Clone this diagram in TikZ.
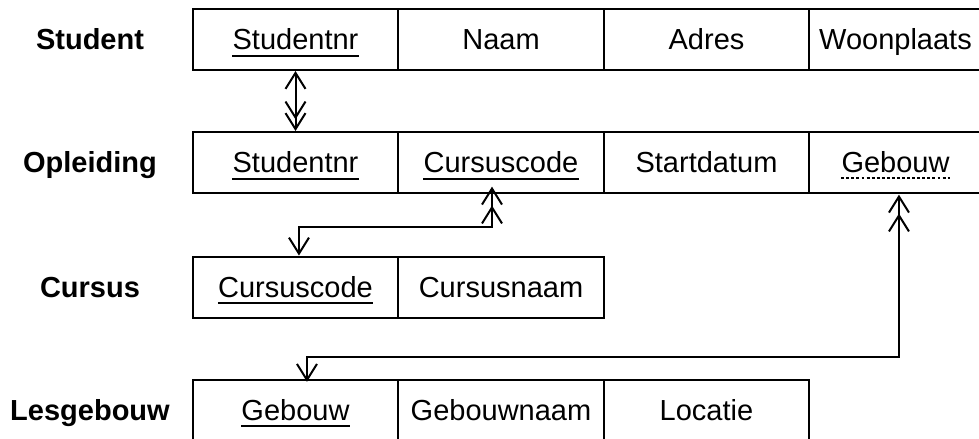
\documentclass[tikz,border=0pt]{standalone}
\usepackage{fontspec}
\setmainfont{Liberation Sans}
\usetikzlibrary{arrows.meta}
\begin{document}
\begin{tikzpicture}[x=0.75pt,y=-0.75pt,
  every node/.style={font=\fontsize{21.75pt}{26pt}\selectfont},
  cell/.style={draw,line width=1.5pt,minimum height=45.75pt,inner sep=0pt},
  wA/.style={minimum width=154.1pt},
  wB/.style={minimum width=129.75pt},
  txt/.style={inner sep=0pt,text height=15.6pt,text depth=0pt},
  lbl/.style={inner sep=0pt,text height=15.6pt,text depth=0pt,font=\fontsize{21.75pt}{26pt}\selectfont\bfseries},
  ul/.style={line width=1.5pt},
  dul/.style={line width=1.5pt,dash pattern=on 2.2pt off 1.6pt},
  conn/.style={line width=1.5pt,line join=miter},
  tipone/.style={Straight Barb[length=12pt,width=15pt]},
]
\clip (0,0) rectangle (979,439);

% labels
\node[lbl] (ls) at (90,39.5) {Student};
\node[lbl] (lo) at (90,162.5) {Opleiding};
\node[lbl] (lc) at (90,287) {Cursus};
\node[lbl] (lg) at (90,410) {Lesgebouw};

% Student row
\node[cell,wA] (s1) at (295.5,39.5) {};
\node[cell,wA] (s2) at (501,39.5) {};
\node[cell,wA] (s3) at (706.5,39.5) {};
\node[cell,wB] (s4) at (895.5,39.5) {};
\node[txt] (s1t) at (s1) {Studentnr};
\node[txt] (s2t) at (s2) {Naam};
\node[txt] (s3t) at (s3) {Adres};
\node[txt] (s4t) at (s4) {Woonplaats};

% Opleiding row
\node[cell,wA] (o1) at (295.5,162.5) {};
\node[cell,wA] (o2) at (501,162.5) {};
\node[cell,wA] (o3) at (706.5,162.5) {};
\node[cell,wB] (o4) at (895.5,162.5) {};
\node[txt] (o1t) at (o1) {Studentnr};
\node[txt] (o2t) at (o2) {Cursuscode};
\node[txt] (o3t) at (o3) {Startdatum};
\node[txt] (o4t) at (o4) {Gebouw};

% Cursus row
\node[cell,wA] (c1) at (295.5,287) {};
\node[cell,wA] (c2) at (501,287) {};
\node[txt] (c1t) at (c1) {Cursuscode};
\node[txt] (c2t) at (c2) {Cursusnaam};

% Lesgebouw row
\node[cell,wA] (g1) at (295.5,410) {};
\node[cell,wA] (g2) at (501,410) {};
\node[cell,wA] (g3) at (706.5,410) {};
\node[txt] (g1t) at (g1) {Gebouw};
\node[txt] (g2t) at (g2) {Gebouwnaam};
\node[txt] (g3t) at (g3) {Locatie};

% underlines
\foreach \n in {s1t,o1t,o2t,c1t,g1t}{
  \draw[ul] ([yshift=-4.2pt]\n.base west) -- ([yshift=-4.2pt]\n.base east);
}
\draw[dul] ([yshift=-3.5pt]o4t.base west) -- ([yshift=-3.5pt]o4t.base east);

% connectors
\draw[conn,{Straight Barb[length=12pt,width=15pt]}-{Straight Barb[length=12pt,width=15pt,sep=-5.5pt]Straight Barb[length=12pt,width=15pt]}]
  (s1.south) -- (o1.north);
\draw[conn,{Straight Barb[length=12pt,width=15pt,sep=-5.5pt]Straight Barb[length=12pt,width=15pt]}-{Straight Barb[length=12pt,width=15pt]}]
  ([xshift=-6.75pt]o2.south) -- ++(0,33) -| ([xshift=2.6pt]c1.north);
\draw[conn,{Straight Barb[length=12pt,width=15pt,sep=-5.5pt]Straight Barb[length=12pt,width=15pt]}-{Straight Barb[length=12pt,width=15pt]}]
  ([xshift=2.6pt,yshift=-6pt]o4.south) -- ++(0,155) -| ([xshift=8.6pt,yshift=-2.5pt]g1.north);
\end{tikzpicture}
\end{document}
